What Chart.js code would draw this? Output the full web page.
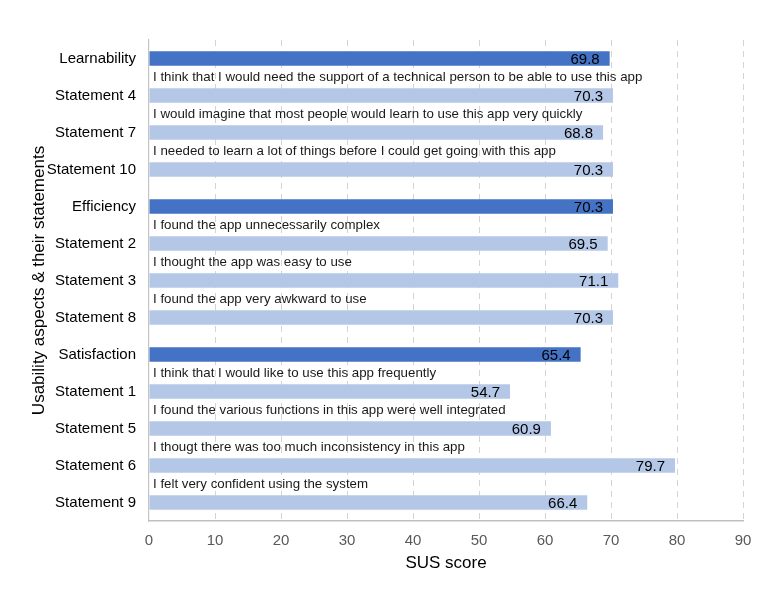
<!DOCTYPE html>
<html>
<head>
<meta charset="utf-8">
<script src="https://cdn.jsdelivr.net/npm/chart.js@4.4.1/dist/chart.umd.min.js"></script>
<style>
  html, body { margin: 0; padding: 0; background: #ffffff; }
  #wrap { width: 765px; height: 590px; }
</style>
</head>
<body>
<div id="wrap"><canvas id="chart" width="765" height="590"></canvas></div>
<script>
// rows from top to bottom
const categories = [
  "Learnability", "Statement 4", "Statement 7", "Statement 10",
  "Efficiency", "Statement 2", "Statement 3", "Statement 8",
  "Satisfaction", "Statement 1", "Statement 5", "Statement 6", "Statement 9"
];
const susScores = [69.8, 70.3, 68.8, 70.3, 70.3, 69.5, 71.1, 70.3, 65.4, 54.7, 60.9, 79.7, 66.4];
// text printed above each statement bar ("" for the aspect rows)
const statementTexts = [
  "",
  "I think that I would need the support of a technical person to be able to use this app",
  "I would imagine that most people would learn to use this app very quickly",
  "I needed to learn a lot of things before I could get going with this app",
  "",
  "I found the app unnecessarily complex",
  "I thought the app was easy to use",
  "I found the app very awkward to use",
  "",
  "I think that I would like to use this app frequently",
  "I found the various functions in this app were well integrated",
  "I thougt there was too much inconsistency in this app",
  "I felt very confident using the system"
];
const aspectRows = ["Learnability", "Efficiency", "Satisfaction"];
const xTicks = [0, 10, 20, 30, 40, 50, 60, 70, 80, 90];

const FONT = "'Liberation Sans', Arial, Helvetica, sans-serif";
const DARK = "#4472C4";
const LIGHT = "#B4C7E7";

// statement captions + value labels at the bar ends
const annotationsPlugin = {
  id: "susAnnotations",
  afterDatasetsDraw(chart) {
    const { ctx, chartArea } = chart;
    const yScale = chart.scales.y;
    const bars = chart.getDatasetMeta(0).data;
    ctx.save();

    ctx.font = "13.3px " + FONT;
    ctx.fillStyle = "#1a1a1a";
    ctx.textAlign = "left";
    ctx.textBaseline = "alphabetic";
    statementTexts.forEach((txt, i) => {
      if (!txt) return;
      ctx.fillText(txt, chartArea.left + 4, yScale.getPixelForValue(i) - 15);
    });

    ctx.font = "15px " + FONT;
    ctx.fillStyle = "#000000";
    ctx.textAlign = "right";
    ctx.textBaseline = "middle";
    bars.forEach((bar, i) => {
      ctx.fillText(susScores[i].toFixed(1), bar.x - 10, bar.y + 1);
    });
    ctx.restore();
  }
};

new Chart(document.getElementById("chart"), {
  type: "bar",
  data: {
    labels: categories,
    datasets: [{
      data: susScores,
      backgroundColor: categories.map(c => aspectRows.includes(c) ? DARK : LIGHT),
      borderWidth: 0,
      categoryPercentage: 1,
      barPercentage: 0.39
    }]
  },
  options: {
    indexAxis: "y",
    responsive: false,
    animation: false,
    layout: { padding: { left: 0, right: 22, top: 40, bottom: 0 } },
    plugins: {
      legend: { display: false },
      tooltip: { enabled: false }
    },
    scales: {
      x: {
        min: 0,
        max: 90,
        afterBuildTicks: (scale) => { scale.ticks = xTicks.map(v => ({ value: v })); },
        afterFit: (scale) => { scale.height = 69; },
        grid: {
          drawTicks: false,
          color: (ctx) => ctx.tick && ctx.tick.value === 0 ? "rgba(0,0,0,0)" : "#d4d4d4",
          lineWidth: 1
        },
        border: { display: true, color: "#bfbfbf", width: 1.5, dash: [6, 5] },
        ticks: {
          padding: 11,
          color: "#595959",
          font: { family: FONT, size: 15 }
        },
        title: {
          display: true,
          text: "SUS score",
          color: "#000000",
          font: { family: FONT, size: 17 },
          padding: { top: 0, bottom: 16 }
        }
      },
      y: {
        afterFit: (scale) => { scale.width = 149; },
        grid: { display: false, drawTicks: false },
        border: { display: true, color: "#c4c4c4", width: 1.2 },
        ticks: {
          padding: 13,
          color: "#000000",
          font: { family: FONT, size: 15 }
        },
        title: {
          display: true,
          text: "Usability aspects & their statements",
          color: "#000000",
          font: { family: FONT, size: 17 },
          padding: { top: 29, bottom: 0 }
        }
      }
    }
  },
  plugins: [annotationsPlugin]
});
</script>
</body>
</html>
